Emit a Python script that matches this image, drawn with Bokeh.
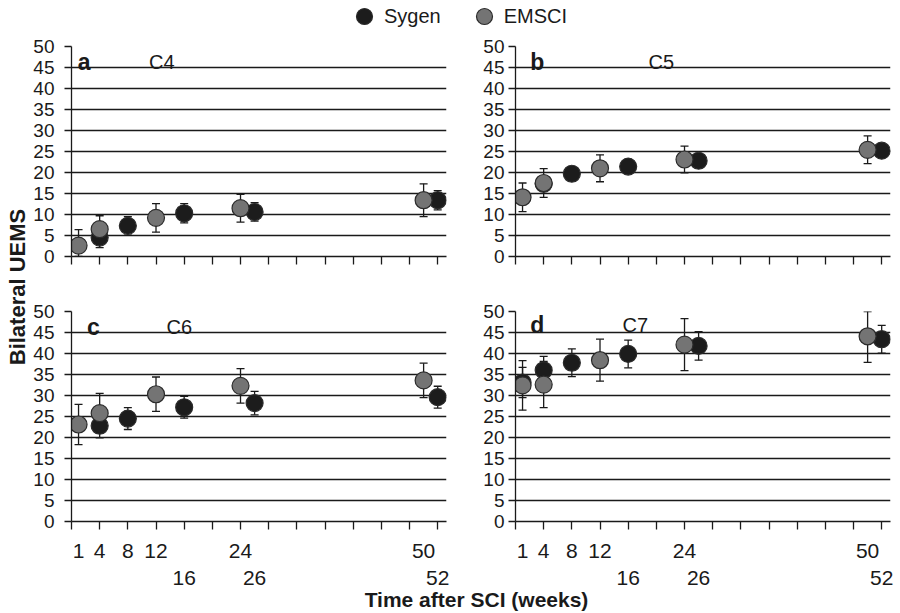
import numpy as np
from bokeh.plotting import figure
from bokeh.models import (Range1d, FixedTicker, LinearAxis, ColumnDataSource, Whisker,
                          TeeHead, Legend, LegendItem, Label)
from bokeh.layouts import column, row
from bokeh.embed import file_html
from bokeh.resources import INLINE

nan = float("nan")

# ---------------- data ----------------
sygen_weeks = [1, 4, 8, 16, 26, 52]
emsci_weeks = [1, 4, 12, 24, 50]

panel_letters = ["a", "b", "c", "d"]
panel_levels = ["C4", "C5", "C6", "C7"]

c4_sygen_mean = [nan, 4.5, 7.3, 10.3, 10.6, 13.4]
c4_sygen_sd = [nan, 2.4, 2.2, 2.3, 2.2, 2.3]
c4_emsci_mean = [2.6, 6.5, 9.2, 11.5, 13.4]
c4_emsci_sd = [3.8, 3.2, 3.4, 3.3, 3.9]

c5_sygen_mean = [nan, 17.3, 19.7, 21.4, 22.8, 25.2]
c5_sygen_sd = [nan, 1.5, 1.4, 1.3, 1.4, 1.4]
c5_emsci_mean = [14.1, 17.5, 21.0, 23.1, 25.4]
c5_emsci_sd = [3.4, 3.4, 3.2, 3.2, 3.3]

c6_sygen_mean = [nan, 22.8, 24.5, 27.2, 28.2, 29.6]
c6_sygen_sd = [nan, 2.9, 2.6, 2.6, 2.8, 2.6]
c6_emsci_mean = [23.1, 25.8, 30.3, 32.3, 33.6]
c6_emsci_sd = [4.8, 4.7, 4.1, 4.1, 4.1]

c7_sygen_mean = [33.1, 36.0, 37.8, 39.9, 41.8, 43.4]
c7_sygen_sd = [3.6, 3.3, 3.3, 3.3, 3.4, 3.3]
c7_emsci_mean = [32.4, 32.6, 38.4, 42.1, 44.1]
c7_emsci_sd = [5.9, 5.5, 5.0, 6.2, 6.2]

y_ticks = list(range(0, 51, 5))
x_tick_marks = list(range(0, 53, 4))
x_labels_row1 = [1, 4, 8, 12, 24, 50]
x_labels_row2 = [16, 26, 52]

# ---------------- style ----------------
FONT = "Liberation Sans"
INK = "#1a1a1a"
BLACK = "#1c1c1c"
GREY = "#747474"
EDGE = "#2b2b2b"
X_END = 53.25


def label_axis(ticks, standoff):
    ax = LinearAxis(ticker=FixedTicker(ticks=ticks))
    ax.axis_line_color = None
    ax.major_tick_line_color = None
    ax.minor_tick_line_color = None
    ax.major_tick_out = 0
    ax.major_tick_in = 0
    ax.minor_tick_out = 0
    ax.minor_tick_in = 0
    ax.major_label_standoff = standoff
    ax.major_label_text_font = FONT
    ax.major_label_text_font_size = "21px"
    ax.major_label_text_color = INK
    return ax


def make_panel(idx, sy_mean, sy_sd, em_mean, em_sd, bl, fw, br, bt, bb, bottom_row,
               ystand, letter_x, level_x, text_y):
    height = bt + 210 + bb
    width = bl + fw + br
    p = figure(width=width, height=height, x_range=Range1d(0, X_END), y_range=Range1d(0, 50),
               output_backend="svg", toolbar_location=None,
               min_border_left=bl, min_border_right=br, min_border_top=bt, min_border_bottom=bb)
    p.outline_line_color = None
    p.background_fill_color = "white"
    p.border_fill_color = "white"
    p.xgrid.visible = False
    p.ygrid.ticker = FixedTicker(ticks=y_ticks)
    p.ygrid.grid_line_color = INK
    p.ygrid.grid_line_width = 1.3

    ya = p.yaxis[0]
    ya.ticker = FixedTicker(ticks=y_ticks)
    ya.major_tick_out = 7
    ya.major_tick_in = 0
    ya.major_tick_line_color = INK
    ya.major_tick_line_width = 1.3
    ya.minor_tick_line_color = None
    ya.axis_line_color = INK
    ya.axis_line_width = 1.3
    ya.major_label_text_font = FONT
    ya.major_label_text_font_size = "19px"
    ya.major_label_text_color = INK
    ya.major_label_standoff = ystand

    # main x axis: only the tick marks every 4 weeks
    xa = p.xaxis[0]
    xa.ticker = FixedTicker(ticks=x_tick_marks)
    xa.axis_line_color = INK
    xa.axis_line_width = 1.3
    xa.major_tick_out = 8
    xa.major_tick_in = 0
    xa.major_tick_line_color = INK
    xa.major_tick_line_width = 1.3
    xa.minor_tick_line_color = None
    xa.major_label_text_color = None
    xa.major_label_text_font_size = "1px"
    xa.major_label_standoff = 0
    if bottom_row:
        p.add_layout(label_axis(x_labels_row1, 14), "below")
        p.add_layout(label_axis(x_labels_row2, 10), "below")

    series = [
        (sygen_weeks, sy_mean, sy_sd, BLACK),
        (emsci_weeks, em_mean, em_sd, GREY),
    ]
    for weeks, mean, sd, color in series:
        m = np.array(mean, dtype=float)
        s = np.array(sd, dtype=float)
        src = ColumnDataSource(dict(x=weeks, y=m,
                                    upper=np.minimum(m + s, 50), lower=np.maximum(m - s, 0)))
        w = Whisker(source=src, base="x", upper="upper", lower="lower", dimension="height",
                    line_color=INK, line_width=1.3,
                    upper_head=TeeHead(size=8, line_color=INK, line_width=1.3),
                    lower_head=TeeHead(size=8, line_color=INK, line_width=1.3))
        p.add_layout(w)
        p.scatter(x="x", y="y", source=src, size=17, fill_color=color, line_color=EDGE,
                  line_width=1.2)

    p.add_layout(Label(x=letter_x, y=text_y, text=panel_letters[idx], text_font=FONT,
                       text_font_style="bold", text_font_size="23px", text_color=INK,
                       text_baseline="middle", text_align="left"))
    p.add_layout(Label(x=level_x, y=text_y, text=panel_levels[idx], text_font=FONT,
                       text_font_size="20px", text_color=INK,
                       text_baseline="middle", text_align="left"))
    return p


pa = make_panel(0, c4_sygen_mean, c4_sygen_sd, c4_emsci_mean, c4_emsci_sd,
                40, 376, 9, 16, 34, False, 10, 0.9, 11.0, 46.3)
pb = make_panel(1, c5_sygen_mean, c5_sygen_sd, c5_emsci_mean, c5_emsci_sd,
                60, 375, 10, 16, 34, False, 4, 2.1, 18.9, 46.3)
pc = make_panel(2, c6_sygen_mean, c6_sygen_sd, c6_emsci_mean, c6_emsci_sd,
                40, 376, 9, 21, 66, True, 10, 2.2, 13.5, 46.4)
pd_ = make_panel(3, c7_sygen_mean, c7_sygen_sd, c7_emsci_mean, c7_emsci_sd,
                 60, 375, 10, 21, 66, True, 4, 2.1, 15.2, 46.7)


def blank(width, height):
    f = figure(width=width, height=height, x_range=Range1d(0, width), y_range=Range1d(0, height),
               output_backend="svg", toolbar_location=None, min_border=0,
               x_axis_location=None, y_axis_location=None)
    f.outline_line_color = None
    f.grid.visible = False
    return f


# legend strip (the two swatch glyphs sit outside the visible range)
leg = blank(900, 30)
r1 = leg.scatter(x=[-100], y=[-100], size=17, fill_color=BLACK, line_color=EDGE, line_width=1.2)
r2 = leg.scatter(x=[-100], y=[-100], size=17, fill_color=GREY, line_color=EDGE, line_width=1.2)
legend = Legend(items=[LegendItem(label="Sygen", renderers=[r1]),
                       LegendItem(label="EMSCI", renderers=[r2])],
                orientation="horizontal", location=(344, -6), glyph_width=40, glyph_height=40,
                label_standoff=0, spacing=23, padding=0, margin=0,
                border_line_color=None, background_fill_alpha=0,
                label_text_font=FONT, label_text_font_size="20px", label_text_color=INK)
leg.add_layout(legend, "center")

# y title strip
yt = blank(30, 557)
yt.add_layout(Label(x=17, y=300.5, text="Bilateral UEMS", angle=np.pi / 2, text_font=FONT,
                    text_font_style="bold", text_font_size="22px", text_color=INK,
                    text_align="center", text_baseline="middle"))

# x title strip
xt = blank(900, 26)
xt.add_layout(Label(x=476, y=14, text="Time after SCI (weeks)", text_font=FONT,
                    text_font_style="bold", text_font_size="21px", text_color=INK,
                    text_align="center", text_baseline="middle"))

layout = column(leg, row(yt, column(row(pa, pb), row(pc, pd_))), xt)

with open("out.html", "w") as fh:
    fh.write(file_html(layout, INLINE))
